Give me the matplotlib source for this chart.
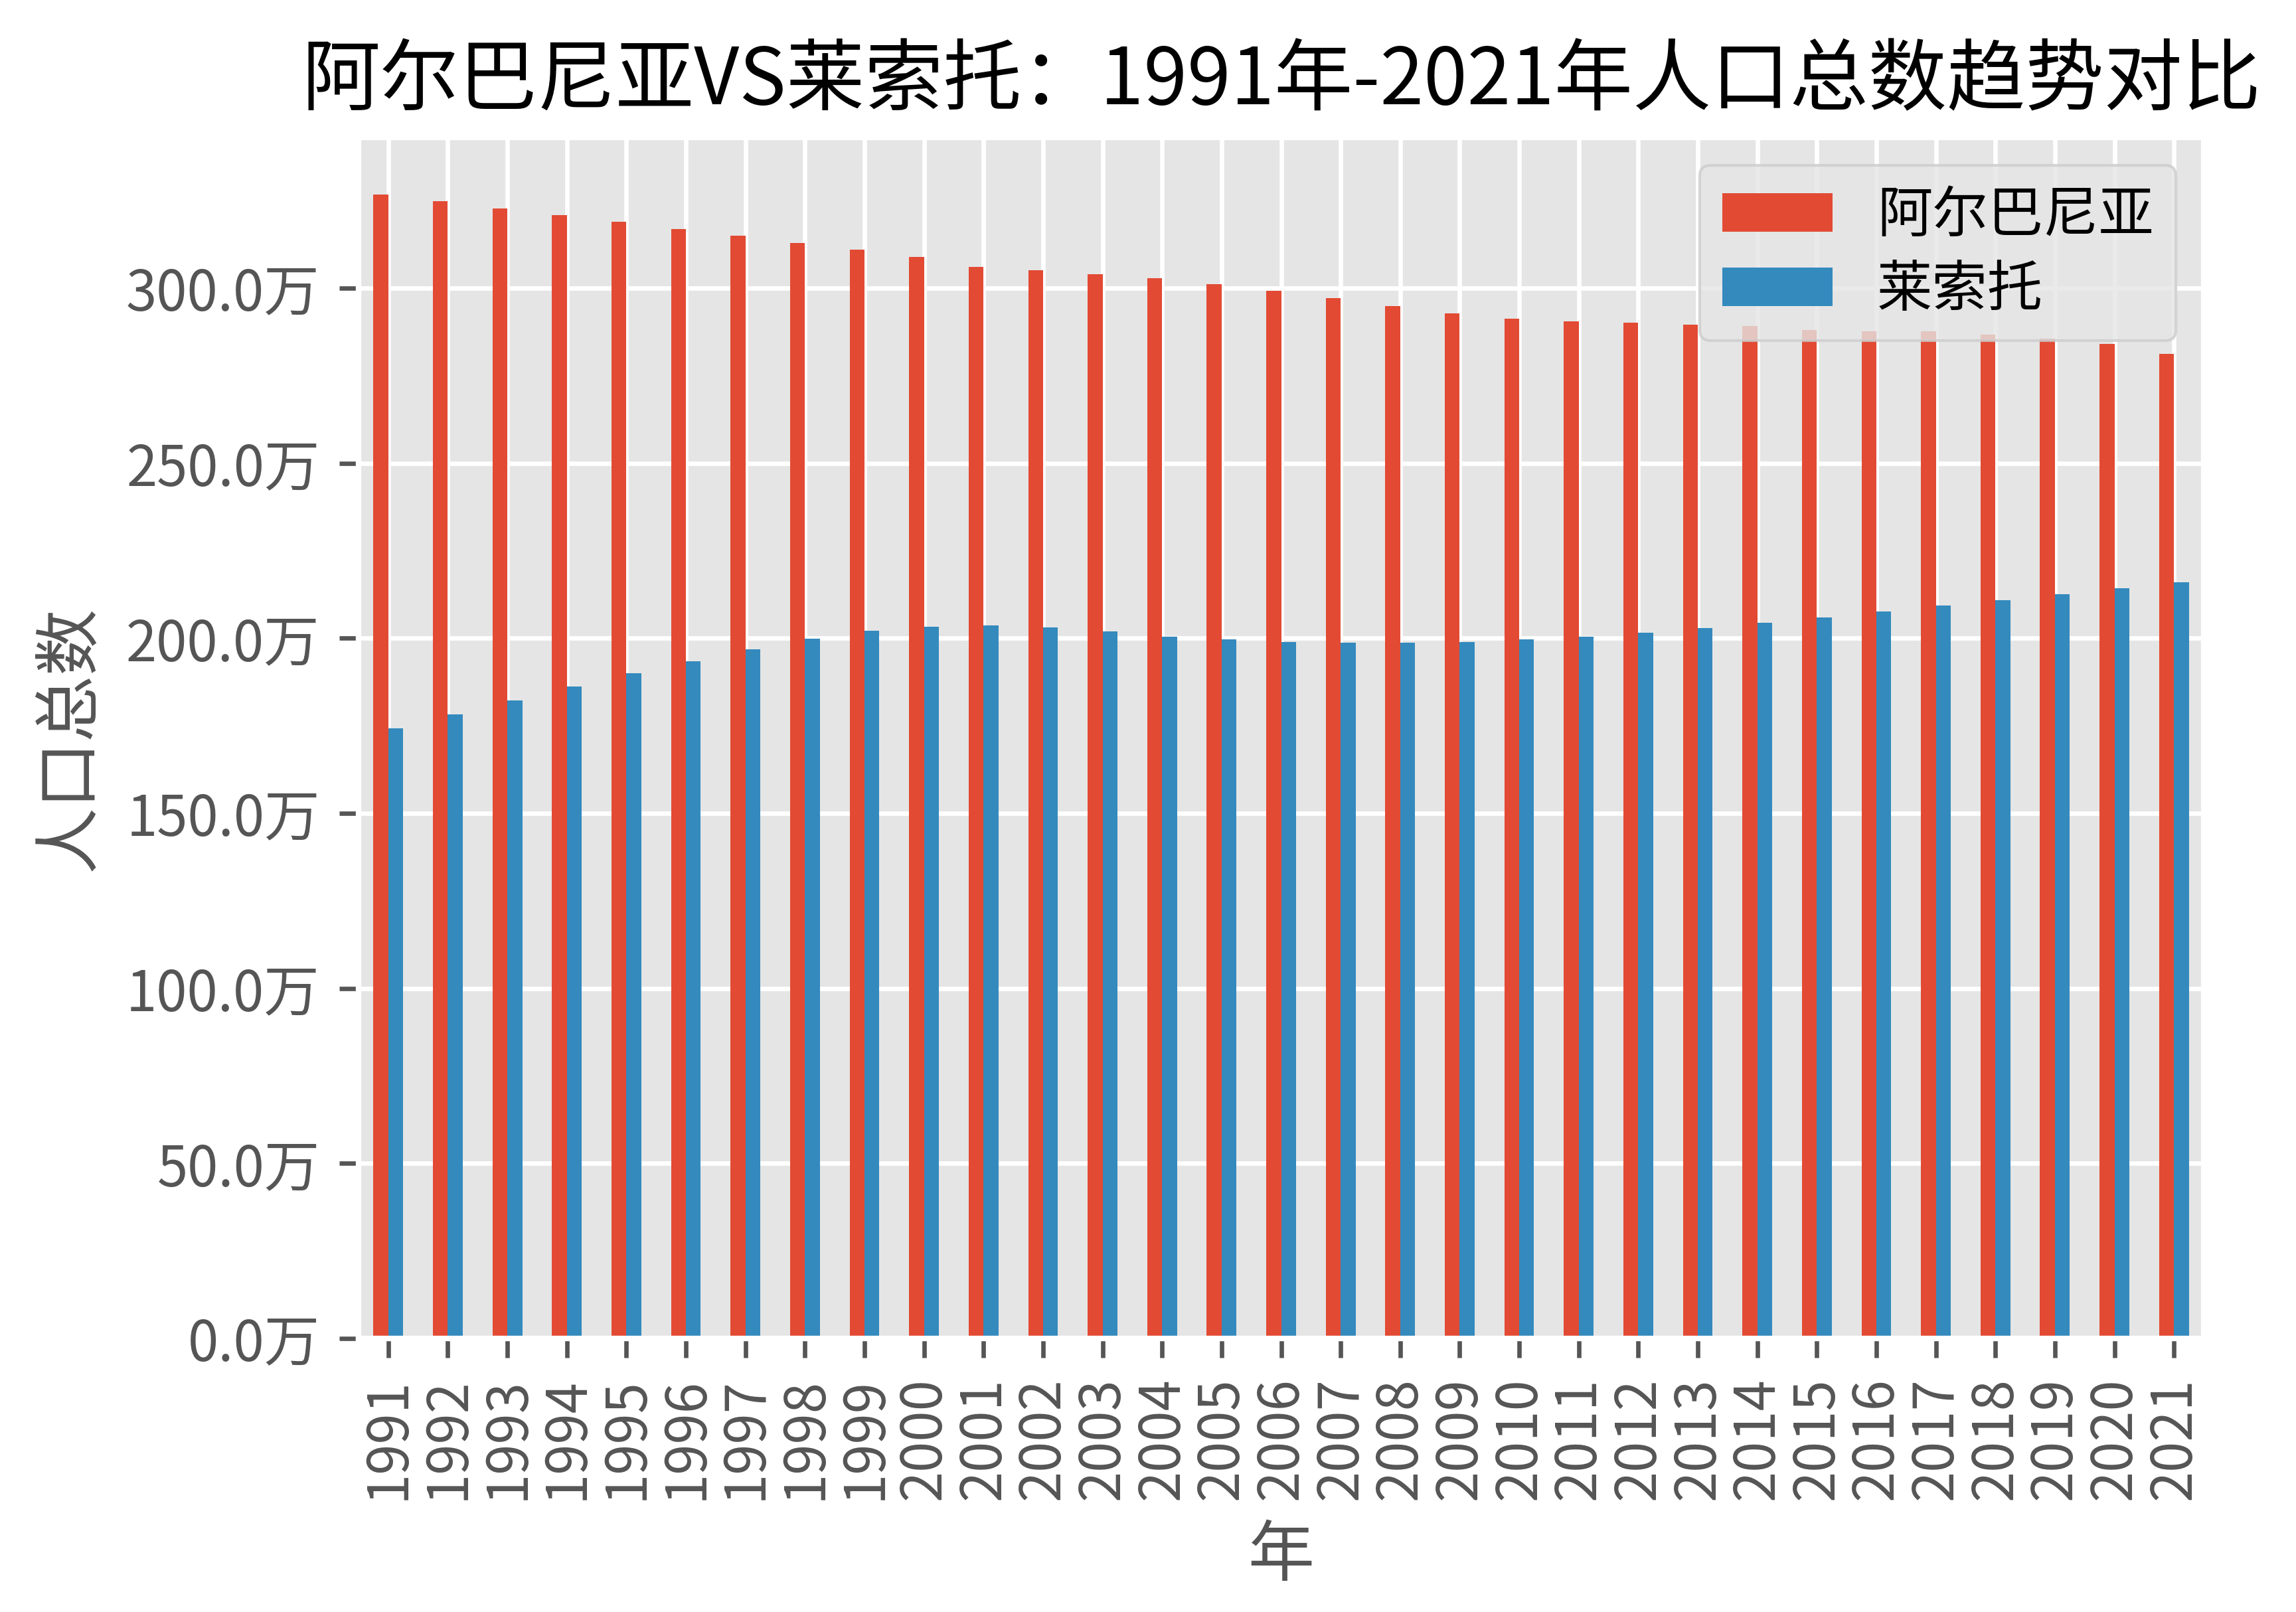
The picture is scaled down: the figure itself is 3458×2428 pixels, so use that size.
import matplotlib
matplotlib.use("Agg")
import matplotlib.pyplot as plt
import numpy as np
from matplotlib.ticker import FuncFormatter

plt.style.use("ggplot")
plt.rcParams["font.family"] = ["Noto Sans CJK SC", "DejaVu Sans"]
plt.rcParams["axes.unicode_minus"] = False

years = [str(y) for y in range(1991, 2022)]
albania = [326.7, 324.8, 322.8, 320.9, 319.0, 316.9, 315.0, 312.9, 311.0, 308.9,
           306.0, 305.1, 304.0, 302.8, 301.1, 299.3, 297.1, 294.9, 292.8, 291.3,
           290.5, 290.1, 289.6, 289.1, 288.1, 287.7, 287.6, 286.8, 285.5, 284.0,
           281.3]
lesotho = [174.2, 178.2, 182.2, 186.2, 190.0, 193.4, 196.8, 199.8, 202.1, 203.2,
           203.6, 203.0, 201.9, 200.5, 199.6, 199.0, 198.7, 198.7, 199.0, 199.6,
           200.4, 201.6, 202.9, 204.4, 205.9, 207.6, 209.3, 210.8, 212.5, 214.2,
           215.9]
series_names = ["阿尔巴尼亚", "莱索托"]

W, H = 3458, 2428
fig = plt.figure(figsize=(W / 600, H / 600), dpi=600)
ax = fig.add_axes([540 / W, 1 - 2016 / H, (3319 - 540) / W, (2016 - 207) / H])

x = np.arange(len(years))
w = 0.25
ax.bar(x - w / 2, albania, width=w, color="#E24A33", label=series_names[0])
ax.bar(x + w / 2, lesotho, width=w, color="#348ABD", label=series_names[1])
ax.set_xlim(-0.5, len(years) - 0.5)
ax.set_xticks(x)
ax.set_xticklabels(years, rotation=90)
ax.yaxis.set_major_formatter(FuncFormatter(lambda v, p: f"{v:.1f}万"))

ax.set_title("阿尔巴尼亚VS莱索托：1991年-2021年人口总数趋势对比", color="black",
             fontsize=14.2)
ax.set_xlabel("年")
ax.set_ylabel("人口总数")
ax.legend(loc="upper right", labelspacing=0.3)

fig.savefig("out.png", dpi=600)
